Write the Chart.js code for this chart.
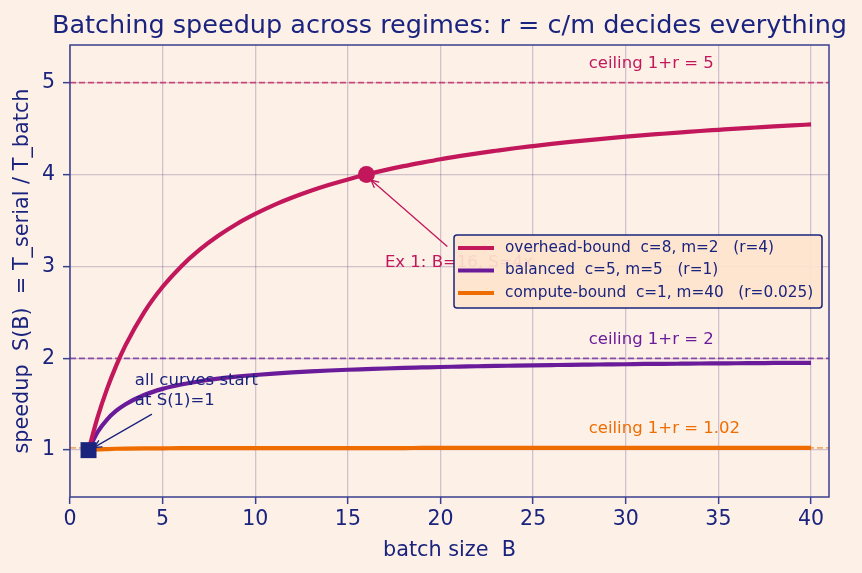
<!DOCTYPE html>
<html>
<head>
<meta charset="utf-8">
<script src="https://cdn.jsdelivr.net/npm/chart.js@4/dist/chart.umd.min.js"></script>
<style>
  html, body { margin: 0; padding: 0; background: #fdf1e7; }
  #wrap { width: 862px; height: 573px; }
</style>
</head>
<body>
<div id="wrap"><canvas id="c" width="862" height="573"></canvas></div>
<script>
// ---- data ----
const batchSizes = [1,1.5,2,2.5,3,4,5,6,7,8,9,10,11,12,13,14,15,16,17,18,19,20,21,22,23,24,25,26,27,28,29,30,31,32,33,34,35,36,37,38,39,40];
const overheadBound = [1,1.364,1.667,1.923,2.143,2.5,2.778,3.0,3.182,3.333,3.462,3.571,3.667,3.75,3.824,3.889,3.947,4.0,4.048,4.091,4.130,4.167,4.2,4.231,4.259,4.286,4.310,4.333,4.355,4.375,4.394,4.412,4.429,4.444,4.459,4.474,4.487,4.5,4.512,4.524,4.535,4.545];
const balanced = [1,1.2,1.333,1.429,1.5,1.6,1.667,1.714,1.75,1.778,1.8,1.818,1.833,1.846,1.857,1.867,1.875,1.882,1.889,1.895,1.9,1.905,1.909,1.913,1.917,1.92,1.923,1.926,1.929,1.931,1.933,1.935,1.938,1.939,1.941,1.943,1.944,1.946,1.947,1.949,1.95,1.951];
const computeBound = [1,1.008,1.012,1.015,1.017,1.019,1.020,1.021,1.021,1.022,1.022,1.022,1.023,1.023,1.023,1.023,1.023,1.023,1.023,1.023,1.024,1.024,1.024,1.024,1.024,1.024,1.024,1.024,1.024,1.024,1.024,1.024,1.024,1.024,1.024,1.024,1.024,1.024,1.024,1.024,1.024,1.024];
const seriesLabels = ["overhead-bound  c=8, m=2   (r=4)", "balanced  c=5, m=5   (r=1)", "compute-bound  c=1, m=40   (r=0.025)"];
const ceilings = [5, 2, 1.025];
const ceilingLabels = ["ceiling 1+r = 5", "ceiling 1+r = 2", "ceiling 1+r = 1.02"];
const examplePoint = [16, 4];
const startPoint = [1, 1];
const xTicks = [0,5,10,15,20,25,30,35,40];
const yTicks = [1,2,3,4,5];

const NAVY = '#1a237e';
const SPINE = '#3a3f8f';
const COLORS = ['#c2185b', '#6a1b9a', '#ef6c00'];
const CEIL_COLORS = ['rgba(194,24,91,0.72)', 'rgba(106,27,154,0.72)', 'rgba(239,108,0,0.55)'];
const GRID = 'rgba(95,70,140,0.28)';
const FONT = '"DejaVu Sans", sans-serif';

const toXY = arr => arr.map((v, i) => ({x: batchSizes[i], y: v}));

function arrow(ctx, x0, y0, x1, y1, color, lw, head) {
  ctx.save();
  ctx.strokeStyle = color; ctx.lineWidth = lw; ctx.lineCap = 'round';
  ctx.beginPath(); ctx.moveTo(x0, y0); ctx.lineTo(x1, y1); ctx.stroke();
  const a = Math.atan2(y1 - y0, x1 - x0);
  ctx.beginPath();
  ctx.moveTo(x1 - head * Math.cos(a - 0.45), y1 - head * Math.sin(a - 0.45));
  ctx.lineTo(x1, y1);
  ctx.lineTo(x1 - head * Math.cos(a + 0.45), y1 - head * Math.sin(a + 0.45));
  ctx.stroke();
  ctx.restore();
}

const decor = {
  id: 'decor',
  beforeDraw(chart) {
    const {ctx, width, height} = chart;
    ctx.save();
    ctx.fillStyle = '#fdf1e7';
    ctx.fillRect(0, 0, width, height);
    ctx.restore();
  },
  beforeDatasetsDraw(chart) {
    const {ctx, chartArea: ca, scales: {x, y}} = chart;
    ctx.save();
    ctx.beginPath(); ctx.rect(ca.left, ca.top, ca.right - ca.left, ca.bottom - ca.top); ctx.clip();
    ceilings.forEach((c, i) => {
      const py = y.getPixelForValue(c);
      ctx.strokeStyle = CEIL_COLORS[i];
      ctx.lineWidth = 1.8;
      ctx.setLineDash([6, 3]);
      ctx.beginPath(); ctx.moveTo(ca.left, py); ctx.lineTo(ca.right, py); ctx.stroke();
    });
    ctx.restore();
    ctx.save();
    ctx.font = '16.5px ' + FONT;
    ctx.textBaseline = 'middle';
    ctx.textAlign = 'left';
    ceilings.forEach((c, i) => {
      ctx.fillStyle = COLORS[i];
      ctx.fillText(ceilingLabels[i], x.getPixelForValue(28), y.getPixelForValue(c) - 19);
    });
    ctx.restore();
  },
  afterDatasetsDraw(chart) {
    const {ctx, chartArea: ca, scales: {x, y}} = chart;
    // spines
    ctx.save();
    ctx.strokeStyle = SPINE; ctx.lineWidth = 1.5;
    ctx.strokeRect(ca.left, ca.top, ca.right - ca.left, ca.bottom - ca.top);
    ctx.restore();
    // Ex1 annotation
    ctx.save();
    ctx.font = '16.5px ' + FONT;
    ctx.fillStyle = COLORS[0];
    ctx.textBaseline = 'middle';
    ctx.fillText('Ex 1: B=16, S=4x', x.getPixelForValue(17), y.getPixelForValue(3.04));
    ctx.restore();
    arrow(ctx, x.getPixelForValue(20.35), y.getPixelForValue(3.22),
          x.getPixelForValue(16.25), y.getPixelForValue(3.94), COLORS[0], 1.3, 8);
    // start annotation
    ctx.save();
    ctx.font = '16.5px ' + FONT;
    ctx.fillStyle = NAVY;
    ctx.textBaseline = 'middle';
    const tx = x.getPixelForValue(3.5);
    ctx.fillText('all curves start', tx, y.getPixelForValue(1.76));
    ctx.fillText('at S(1)=1', tx, y.getPixelForValue(1.54));
    ctx.restore();
    arrow(ctx, x.getPixelForValue(4.4), y.getPixelForValue(1.39),
          x.getPixelForValue(1.3), y.getPixelForValue(1.03), NAVY, 1.3, 8);
    // title
    ctx.save();
    ctx.font = '25.5px ' + FONT;
    ctx.fillStyle = NAVY;
    ctx.textAlign = 'center';
    ctx.textBaseline = 'alphabetic';
    ctx.fillText('Batching speedup across regimes: r = c/m decides everything', (ca.left + ca.right) / 2, 33);
    ctx.restore();
    // legend
    const lx = 454, ly = 235, lw = 368, lh = 73;
    ctx.save();
    ctx.fillStyle = 'rgba(253,228,206,0.92)';
    ctx.strokeStyle = NAVY; ctx.lineWidth = 1.5;
    ctx.beginPath();
    ctx.roundRect(lx, ly, lw, lh, 3);
    ctx.fill(); ctx.stroke();
    ctx.font = '15.3px ' + FONT;
    ctx.textBaseline = 'middle';
    seriesLabels.forEach((t, i) => {
      const yy = ly + 13 + i * 22.5;
      ctx.strokeStyle = COLORS[i]; ctx.lineWidth = 4.2;
      ctx.beginPath(); ctx.moveTo(lx + 4, yy); ctx.lineTo(lx + 40, yy); ctx.stroke();
      ctx.fillStyle = NAVY;
      ctx.fillText(t, lx + 51, yy);
    });
    ctx.restore();
  }
};

new Chart(document.getElementById('c'), {
  type: 'line',
  data: {
    datasets: [
      {label: seriesLabels[0], data: toXY(overheadBound), borderColor: COLORS[0], borderWidth: 4.2, pointRadius: 0, cubicInterpolationMode: 'monotone', order: 3},
      {label: seriesLabels[1], data: toXY(balanced), borderColor: COLORS[1], borderWidth: 4.2, pointRadius: 0, cubicInterpolationMode: 'monotone', order: 4},
      {label: seriesLabels[2], data: toXY(computeBound), borderColor: COLORS[2], borderWidth: 4.2, pointRadius: 0, cubicInterpolationMode: 'monotone', order: 5},
      {label: 'ex1', data: [{x: examplePoint[0], y: examplePoint[1]}], showLine: false, pointStyle: 'circle', pointRadius: 8.5, backgroundColor: COLORS[0], borderColor: COLORS[0], borderWidth: 0, order: 1},
      {label: 'start', data: [{x: startPoint[0], y: startPoint[1]}], showLine: false, pointStyle: 'rect', pointRadius: 11.3, backgroundColor: NAVY, borderColor: NAVY, borderWidth: 0, order: 0}
    ]
  },
  options: {
    responsive: false,
    animation: false,
    events: [],
    layout: {padding: {left: 0, right: 33, top: 45, bottom: 0}},
    plugins: {legend: {display: false}, title: {display: false}, tooltip: {enabled: false}},
    scales: {
      x: {
        type: 'linear', min: 0, max: 40.97,
        afterBuildTicks: s => { s.ticks = xTicks.map(v => ({value: v})); },
        afterFit: s => { s.height = 76; },
        grid: {color: GRID, lineWidth: 1.3, tickColor: SPINE, tickLength: 7, tickWidth: 1.5},
        border: {display: false},
        ticks: {color: NAVY, font: {family: FONT, size: 20.5}, padding: 3, maxRotation: 0},
        title: {display: true, text: 'batch size  B', color: NAVY, font: {family: FONT, size: 20.8}, padding: {top: 0, bottom: 10}}
      },
      y: {
        type: 'linear', min: 0.49, max: 5.41,
        afterBuildTicks: s => { s.ticks = yTicks.map(v => ({value: v})); },
        afterFit: s => { s.width = 70; },
        grid: {color: GRID, lineWidth: 1.3, tickColor: SPINE, tickLength: 7, tickWidth: 1.5},
        border: {display: false},
        ticks: {color: NAVY, font: {family: FONT, size: 20.5}, padding: 8},
        title: {display: true, text: 'speedup  S(B)  = T_serial / T_batch', color: NAVY, font: {family: FONT, size: 20.8}, padding: {top: 10, bottom: 0}}
      }
    }
  },
  plugins: [decor]
});
</script>
</body>
</html>
